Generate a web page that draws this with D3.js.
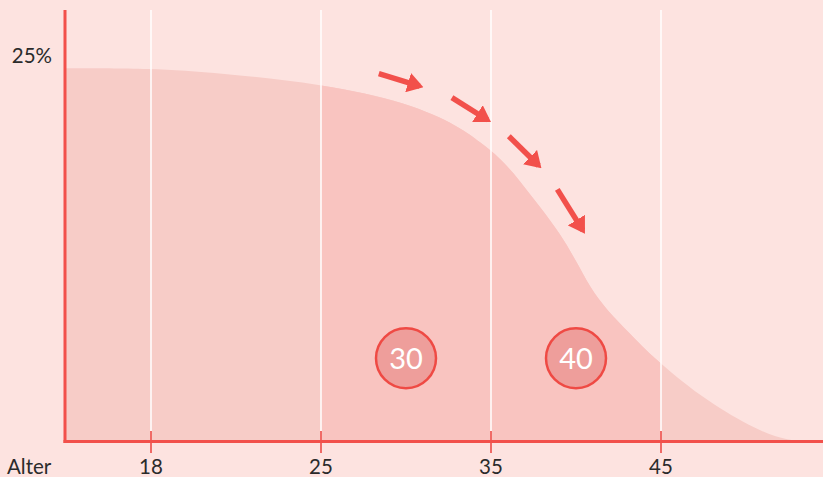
<!DOCTYPE html>
<html>
<head>
<meta charset="utf-8">
<script src="https://cdn.jsdelivr.net/npm/d3@7"></script>
<style>
  body { margin: 0; background: #fde3e0; }
  text { font-family: Lato, "Open Sans", sans-serif; }
</style>
</head>
<body>
<div id="chart-area"></div>
<script>
// Data //
const tickAges = [18, 25, 35, 45];
const curveAges = [14.5, 18, 20.8, 25, 30.1, 33.2, 34.35, 35.53, 36.71, 37.88, 39.06, 40.06, 40.82, 41.82, 43.18, 44.53, 47.3, 50.3, 52.4, 54.5];
const curvePct  = [24.2, 24.2, 23.9, 23.2, 22.0, 20.4, 19.4, 18.4, 16.9, 15.2, 13.5, 11.6, 10.0, 8.5, 7.0, 5.45, 2.9, 0.9, 0, 0];
const highlightRange = [25, 45];
const markerAges = [30, 40];
const markerPct = 5.4;
// arrows: [fromAge, fromPct, toAge, toPct]
const arrows = [
  [28.4, 23.85, 30.8, 23.05],
  [32.7, 22.3, 34.8, 20.85],
  [36.05, 19.8, 37.8, 17.9],
  [38.9, 16.35, 40.4, 13.7]
];
const yTickValue = 25;

// Canvas //
const W = 823, H = 477;
const plotLeft = 65, plotBottom = 441.5, plotTop = 10;

const svg = d3.select("#chart-area")
  .append("svg")
  .attr("width", W)
  .attr("height", H);

// piecewise scale: ticks are equally spaced
var x = d3.scaleLinear()
  .domain([14.5, 18, 25, 35, 45, 54.5])
  .range([plotLeft, 151, 321, 491, 661, W]);

var y = d3.scaleLinear()
  .domain([0, 25])
  .range([plotBottom, 56]);

var pts = curveAges.map((a, i) => ({age: a, pct: curvePct[i]}));

var area = d3.area()
  .x(d => x(d.age))
  .y0(y(0))
  .y1(d => y(d.pct))
  .curve(d3.curveBasis);

var defs = svg.append("defs");
defs.append("clipPath")
  .attr("id", "mid")
  .append("rect")
  .attr("x", x(highlightRange[0]))
  .attr("y", 0)
  .attr("width", x(highlightRange[1]) - x(highlightRange[0]))
  .attr("height", H);

svg.append("path")
  .datum(pts)
  .attr("fill", "#f7ccc7")
  .attr("d", area);

svg.append("path")
  .datum(pts)
  .attr("clip-path", "url(#mid)")
  .attr("fill", "#f9c4c0")
  .attr("d", area);

// gridlines
svg.selectAll(".grid")
  .data(tickAges)
  .enter().append("line")
  .attr("class", "grid")
  .attr("x1", d => x(d)).attr("x2", d => x(d))
  .attr("y1", plotTop).attr("y2", 431)
  .attr("stroke", "#ffffff")
  .attr("stroke-width", 1.5);

// ticks
svg.selectAll(".tick")
  .data(tickAges)
  .enter().append("line")
  .attr("class", "tick")
  .attr("x1", d => x(d)).attr("x2", d => x(d))
  .attr("y1", 431).attr("y2", 453)
  .attr("stroke", "#f06a66")
  .attr("stroke-width", 2);

// axes
svg.append("line")
  .attr("x1", plotLeft).attr("x2", plotLeft)
  .attr("y1", plotTop).attr("y2", plotBottom + 1.5)
  .attr("stroke", "#f2504b")
  .attr("stroke-width", 3);
svg.append("line")
  .attr("x1", plotLeft - 1.5).attr("x2", W)
  .attr("y1", plotBottom).attr("y2", plotBottom)
  .attr("stroke", "#f2504b")
  .attr("stroke-width", 3);

// tick labels
svg.selectAll(".tlabel")
  .data(tickAges)
  .enter().append("text")
  .attr("class", "tlabel")
  .attr("x", d => x(d))
  .attr("y", 474)
  .attr("text-anchor", "middle")
  .attr("font-size", "20.5px")
  .attr("fill", "#2b2b2b")
  .text(d => d);

svg.append("text")
  .attr("x", 7).attr("y", 474)
  .attr("font-size", "20.5px")
  .attr("fill", "#2b2b2b")
  .text("Alter");

svg.append("text")
  .attr("x", 52).attr("y", y(yTickValue) + 7)
  .attr("text-anchor", "end")
  .attr("font-size", "20.5px")
  .attr("fill", "#2b2b2b")
  .text(yTickValue + "%");

// arrows
defs.append("marker")
  .attr("id", "head")
  .attr("viewBox", "0 0 16 20")
  .attr("refX", 12).attr("refY", 10)
  .attr("markerWidth", 16).attr("markerHeight", 20)
  .attr("markerUnits", "userSpaceOnUse")
  .attr("orient", "auto")
  .append("path")
  .attr("d", "M0,0 L16,10 L0,20 Z")
  .attr("fill", "#f2504b");

svg.selectAll(".arrow")
  .data(arrows)
  .enter().append("line")
  .attr("class", "arrow")
  .attr("x1", d => x(d[0])).attr("y1", d => y(d[1]))
  .attr("x2", d => x(d[2])).attr("y2", d => y(d[3]))
  .attr("stroke", "#f2504b")
  .attr("stroke-width", 5.5)
  .attr("marker-end", "url(#head)");

// age markers
var m = svg.selectAll(".marker")
  .data(markerAges)
  .enter().append("g")
  .attr("class", "marker")
  .attr("transform", d => "translate(" + x(d) + "," + y(markerPct) + ")");
m.append("circle")
  .attr("r", 30)
  .attr("fill", "#ee9e9b")
  .attr("stroke", "#ef4a44")
  .attr("stroke-width", 2.5);
m.append("text")
  .attr("text-anchor", "middle")
  .attr("dy", "0.36em")
  .attr("font-size", "29px")
  .attr("fill", "#ffffff")
  .text(d => d);
</script>
</body>
</html>
